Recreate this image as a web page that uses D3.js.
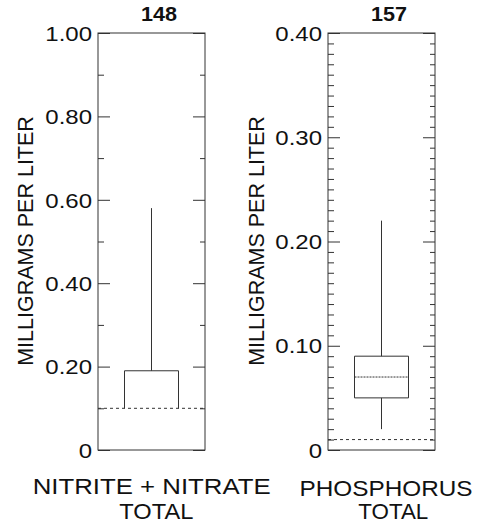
<!DOCTYPE html>
<html>
<head>
<meta charset="utf-8">
<script src="https://cdn.jsdelivr.net/npm/d3@7"></script>
<style>
  html, body { margin: 0; padding: 0; background: #fff; }
  svg { display: block; font-family: "Liberation Sans", Arial, Helvetica, sans-serif; }
</style>
</head>
<body>
<svg id="chart" width="479" height="527"></svg>
<script>
// Constituents shown, one boxplot panel each
const constituents = ["NITRITE + NITRATE", "PHOSPHORUS"];
const constituentSub = ["TOTAL", "TOTAL"];
const sampleCounts = [148, 157];

// Box-plot statistics, milligrams per liter (null = below reporting level, not drawn)
const whiskerHigh = [0.58, 0.22];
const upperQuartile = [0.19, 0.09];
const medianValue = [null, 0.07];
const lowerQuartile = [0.10, 0.05];
const whiskerLow = [null, 0.02];
const reportingLevel = [0.10, 0.01];

// Axis extents and ticks
const yMax = [1.0, 0.4];
const majorTicks = [[0, 0.2, 0.4, 0.6, 0.8, 1.0], [0, 0.1, 0.2, 0.3, 0.4]];
const majorTickLabels = [["0", "0.20", "0.40", "0.60", "0.80", "1.00"], ["0", "0.10", "0.20", "0.30", "0.40"]];
const minorTicks = [
  [0.1, 0.3, 0.5, 0.7, 0.9],
  [0.01, 0.02, 0.03, 0.04, 0.05, 0.06, 0.07, 0.08, 0.09,
   0.11, 0.12, 0.13, 0.14, 0.15, 0.16, 0.17, 0.18, 0.19,
   0.21, 0.22, 0.23, 0.24, 0.25, 0.26, 0.27, 0.28, 0.29,
   0.31, 0.32, 0.33, 0.34, 0.35, 0.36, 0.37, 0.38, 0.39]
];

const svg = d3.select("#chart");
const ink = "#111";
const lineCol = "#333";

// Panel frames
const panelLeft = [98, 328];
const panelWidth = 107;
const plotTop = 33, plotBottom = 450;
const boxHalf = 27;

// Widen text horizontally by factor k
function stretch(sel, k) {
  sel.each(function () {
    const w = this.getComputedTextLength();
    d3.select(this).attr("textLength", w * k).attr("lengthAdjust", "spacingAndGlyphs");
  });
}

const labelLayout = [
  { countX: 141, nameX: 151.7, nameY: 494, nameW: 238, subX: 156.3, subY: 518.5, subW: 74, yLabX: 33 },
  { countX: 371, nameX: 386, nameY: 495.5, nameW: 173, subX: 393.3, subY: 519, subW: 70, yLabX: 263.5 }
];

constituents.forEach((name, i) => {
  const x0 = panelLeft[i], x1 = x0 + panelWidth;
  const y = d3.scaleLinear().domain([0, yMax[i]]).range([plotBottom, plotTop]);
  const cx = (x0 + x1) / 2;
  const g = svg.append("g");
  const L = labelLayout[i];

  // inward major / minor ticks on both sides
  const addTicks = (axisFn, xPos, values, size) => {
    const a = g.append("g").attr("transform", `translate(${xPos},0)`)
      .call(axisFn(y).tickValues(values).tickSize(size).tickFormat(""));
    a.select(".domain").remove();
    a.selectAll("line").attr("stroke", lineCol).attr("stroke-width", 1);
  };
  addTicks(d3.axisRight, x0, majorTicks[i], 12);
  addTicks(d3.axisRight, x0, minorTicks[i], 6);
  addTicks(d3.axisLeft, x1, majorTicks[i], 12);
  addTicks(d3.axisLeft, x1, minorTicks[i], 5);

  // tick labels
  const lab = g.append("g").attr("transform", `translate(${x0},0)`)
    .call(d3.axisLeft(y).tickValues(majorTicks[i]).tickSize(0).tickPadding(6)
      .tickFormat((d, j) => majorTickLabels[i][j]));
  lab.select(".domain").remove();
  lab.selectAll("text")
    .attr("font-size", 20).attr("fill", ink)
    .attr("font-family", "'Liberation Sans', Arial, sans-serif")
    .attr("dy", "0.36em");
  stretch(lab.selectAll("text"), 1.2);

  // frame
  g.append("rect").attr("x", x0).attr("y", plotTop)
    .attr("width", panelWidth).attr("height", plotBottom - plotTop)
    .attr("fill", "none").attr("stroke", lineCol).attr("stroke-width", 1);

  // reporting level
  g.append("line").attr("x1", x0).attr("x2", x1)
    .attr("y1", y(reportingLevel[i])).attr("y2", y(reportingLevel[i]))
    .attr("stroke", lineCol).attr("stroke-width", 1).attr("stroke-dasharray", "3,3");

  // upper whisker
  g.append("line").attr("x1", cx).attr("x2", cx)
    .attr("y1", y(upperQuartile[i])).attr("y2", y(whiskerHigh[i]))
    .attr("stroke", lineCol).attr("stroke-width", 1);
  // lower whisker
  if (whiskerLow[i] !== null) {
    g.append("line").attr("x1", cx).attr("x2", cx)
      .attr("y1", y(lowerQuartile[i])).attr("y2", y(whiskerLow[i]))
      .attr("stroke", lineCol).attr("stroke-width", 1);
  }
  // box: sides and top always; bottom only when above reporting level
  const bx0 = cx - boxHalf, bx1 = cx + boxHalf;
  const yt = y(upperQuartile[i]), yb = y(lowerQuartile[i]);
  g.append("path")
    .attr("d", lowerQuartile[i] > reportingLevel[i]
      ? `M${bx0},${yb}V${yt}H${bx1}V${yb}Z`
      : `M${bx0},${yb}V${yt}H${bx1}V${yb}`)
    .attr("fill", "none").attr("stroke", lineCol).attr("stroke-width", 1);
  if (medianValue[i] !== null) {
    g.append("line").attr("x1", bx0).attr("x2", bx1)
      .attr("y1", y(medianValue[i])).attr("y2", y(medianValue[i]))
      .attr("stroke", lineCol).attr("stroke-width", 1).attr("stroke-dasharray", "2,1");
  }

  // sample count
  g.append("text").attr("x", L.countX).attr("y", 21)
    .attr("font-size", 19.5).attr("font-weight", "bold")
    .attr("textLength", 36).attr("lengthAdjust", "spacingAndGlyphs")
    .attr("fill", ink).text(sampleCounts[i]);

  // y-axis title
  g.append("text").attr("transform", `translate(${L.yLabX},241) rotate(-90)`)
    .attr("text-anchor", "middle").attr("font-size", 21.5).attr("fill", ink)
    .text("MILLIGRAMS PER LITER");

  // constituent names
  g.append("text").attr("x", L.nameX).attr("y", L.nameY)
    .attr("text-anchor", "middle").attr("font-size", 21.5).attr("fill", ink)
    .attr("textLength", L.nameW).attr("lengthAdjust", "spacingAndGlyphs")
    .text(name);
  g.append("text").attr("x", L.subX).attr("y", L.subY)
    .attr("text-anchor", "middle").attr("font-size", 21.5).attr("fill", ink)
    .attr("textLength", L.subW).attr("lengthAdjust", "spacingAndGlyphs")
    .text(constituentSub[i]);
});
</script>
</body>
</html>
